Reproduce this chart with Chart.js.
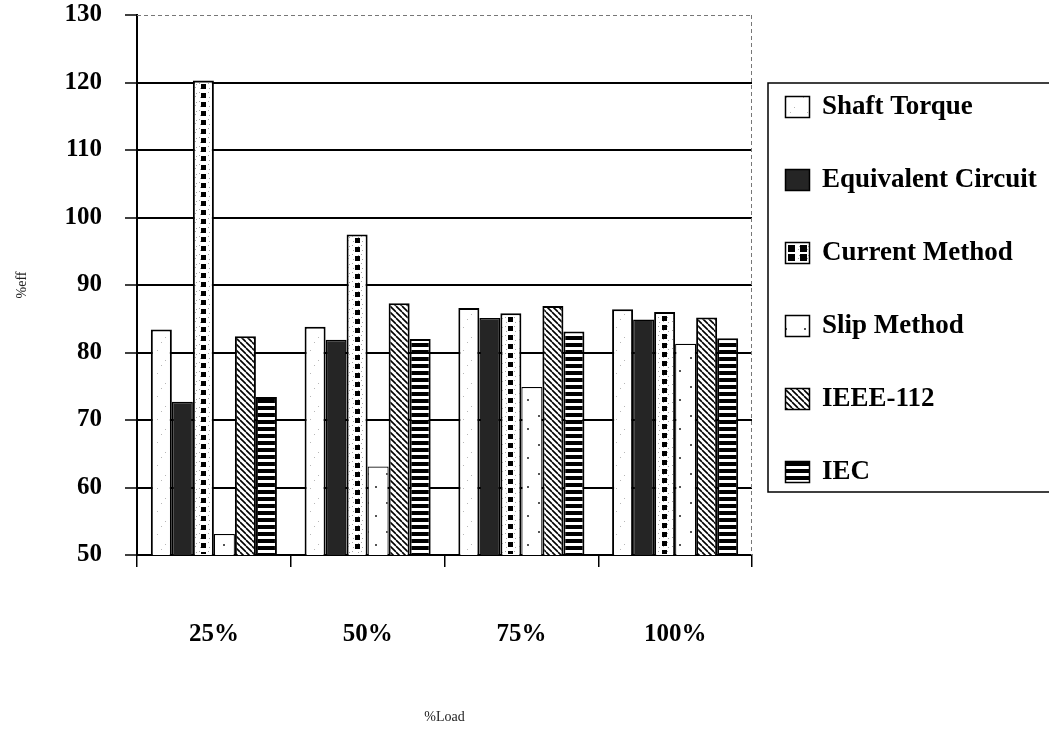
<!DOCTYPE html>
<html>
<head>
<meta charset="utf-8">
<script src="https://cdn.jsdelivr.net/npm/chart.js@4.4.1/dist/chart.umd.min.js"></script>
<style>
  html, body { margin: 0; padding: 0; background: #fff; }
  #wrap { width: 1049px; height: 731px; }
</style>
</head>
<body>
<div id="wrap"><canvas id="c" width="1049" height="731"></canvas></div>
<script>
// Motor efficiency (%) by load level, per estimation method
const loadLabels = ['25%', '50%', '75%', '100%'];
const shaftTorque = [83.4, 83.8, 86.6, 86.4];
const equivalentCircuit = [72.7, 81.9, 85.1, 84.9];
const currentMethod = [120.3, 97.5, 85.8, 86.0];
const slipMethod = [53.1, 63.1, 74.9, 81.3];
const ieee112 = [82.4, 87.3, 86.9, 85.2];
const iec = [73.4, 82.0, 83.1, 82.1];
const effTicks = [50, 60, 70, 80, 90, 100, 110, 120, 130];

const SERIF = '"Liberation Serif", "Times New Roman", serif';

// ---- fill patterns ----
function makePattern(w, h, draw) {
  const c = document.createElement('canvas');
  c.width = w; c.height = h;
  const g = c.getContext('2d');
  g.fillStyle = '#fff';
  g.fillRect(0, 0, w, h);
  draw(g);
  return g.createPattern(c, 'repeat');
}
const speckleFill = makePattern(17, 23, g => {
  g.fillStyle = '#b8b8b8';
  g.fillRect(4, 5, 1, 1); g.fillRect(12, 15, 1, 1); g.fillRect(8, 20, 1, 1);
});
const dottedFill = makePattern(9, 9, g => {
  g.fillStyle = '#a5a5a5';
  g.fillRect(1, 2, 1, 1); g.fillRect(7, 3, 1, 1); g.fillRect(2, 7, 1, 1); g.fillRect(6, 6, 1, 1);
});
const sparseDotFill = makePattern(19, 29, g => {
  g.fillStyle = '#555';
  g.fillRect(6, 9, 2, 2); g.fillRect(14, 22, 2, 2);
});
const diagonalFill = makePattern(6, 6, g => {
  g.strokeStyle = '#000';
  g.lineWidth = 1.6;
  g.beginPath();
  for (const k of [-6, 0, 6]) { g.moveTo(k, 0); g.lineTo(k + 6, 6); }
  g.stroke();
});
const stripeFill = makePattern(4, 7, g => {
  g.fillStyle = '#000';
  g.fillRect(0, 0, 4, 4);
});

const datasets = [
  { label: 'Shaft Torque', data: shaftTorque, backgroundColor: speckleFill, borderWidth: 2 },
  { label: 'Equivalent Circuit', data: equivalentCircuit, backgroundColor: '#252525', borderWidth: 1.5 },
  { label: 'Current Method', data: currentMethod, backgroundColor: dottedFill, borderWidth: 2 },
  { label: 'Slip Method', data: slipMethod, backgroundColor: sparseDotFill, borderWidth: 1.2 },
  { label: 'IEEE-112', data: ieee112, backgroundColor: diagonalFill, borderWidth: 2 },
  { label: 'IEC', data: iec, backgroundColor: stripeFill, borderWidth: 2 }
].map(d => Object.assign({ borderColor: '#000' }, d));

// dashed frame on the top and right side of the plot area
const framePlugin = {
  id: 'frame',
  beforeDatasetsDraw(chart) {
    const { ctx, chartArea: a } = chart;
    ctx.save();
    ctx.strokeStyle = '#777';
    ctx.lineWidth = 1;
    ctx.setLineDash([4, 3]);
    ctx.beginPath();
    ctx.moveTo(a.left, a.top + 0.5);
    ctx.lineTo(a.right, a.top + 0.5);
    ctx.moveTo(a.right - 0.5, a.top);
    ctx.lineTo(a.right - 0.5, a.bottom);
    ctx.stroke();
    ctx.restore();
  }
};

// black square column inside each "Current Method" bar
const squareColumnPlugin = {
  id: 'squareColumn',
  afterDatasetsDraw(chart) {
    const idx = chart.data.datasets.findIndex(d => d.label === 'Current Method');
    const meta = chart.getDatasetMeta(idx);
    const { ctx, chartArea: a } = chart;
    ctx.save();
    ctx.fillStyle = '#000';
    meta.data.forEach(bar => {
      const { x, y, base, width } = bar.getProps(['x', 'y', 'base', 'width'], true);
      const bottom = Math.min(base, a.bottom);
      ctx.save();
      ctx.beginPath();
      ctx.rect(x - width / 2 + 2, y + 2, width - 4, bottom - y - 3);
      ctx.clip();
      for (let yy = y + 4; yy < bottom - 2; yy += 9) {
        ctx.fillRect(Math.round(x - 2.5), Math.round(yy), 5, 5);
      }
      ctx.restore();
    });
    ctx.restore();
  }
};

// boxed legend to the right of the plot
const sideLegendPlugin = {
  id: 'sideLegend',
  afterDraw(chart) {
    const { ctx, chartArea: a } = chart;
    const boxL = a.right + 16, boxT = 83, boxB = 492;
    const sx = a.right + 33, tx = sx + 37;
    const y0 = 107, step = 73, sw = 25, sh = 22;
    ctx.save();
    ctx.strokeStyle = '#000';
    ctx.lineWidth = 1.5;
    ctx.beginPath();
    ctx.moveTo(chart.width + 2, boxT);
    ctx.lineTo(boxL, boxT);
    ctx.lineTo(boxL, boxB);
    ctx.lineTo(chart.width + 2, boxB);
    ctx.stroke();

    ctx.font = 'bold 27px ' + SERIF;
    ctx.textBaseline = 'middle';
    ctx.textAlign = 'left';
    chart.data.datasets.forEach((ds, i) => {
      const cy = y0 + i * step;
      const top = cy - sh / 2;
      ctx.fillStyle = ds.backgroundColor;
      ctx.fillRect(sx, top, sw, sh);
      if (ds.label === 'Current Method') {
        ctx.fillStyle = '#000';
        ctx.fillRect(sx + 3, top + 3, 7, 7);
        ctx.fillRect(sx + 15, top + 3, 7, 7);
        ctx.fillRect(sx + 3, top + 12, 7, 7);
        ctx.fillRect(sx + 15, top + 12, 7, 7);
      }
      ctx.strokeStyle = '#000';
      ctx.lineWidth = 1.5;
      ctx.strokeRect(sx + 0.5, top + 0.5, sw - 1, sh - 1);
      ctx.fillStyle = '#000';
      ctx.fillText(ds.label, tx, cy);
    });
    ctx.restore();
  }
};

new Chart(document.getElementById('c'), {
  type: 'bar',
  data: { labels: loadLabels, datasets },
  options: {
    responsive: false,
    animation: false,
    devicePixelRatio: 1,
    layout: { padding: { left: 0, right: 297, top: 15, bottom: 0 } },
    datasets: { bar: { categoryPercentage: 0.82, barPercentage: 1.0 } },
    plugins: { legend: { display: false }, tooltip: { enabled: false } },
    scales: {
      x: {
        grid: { offset: true, drawOnChartArea: false, drawTicks: true, tickLength: 12, color: '#000', lineWidth: 1.5 },
        border: { display: true, color: '#000', width: 2 },
        ticks: { font: { family: SERIF, size: 25, weight: 'bold' }, color: '#000', padding: 53, maxRotation: 0 },
        title: { display: true, text: '%Load', font: { family: SERIF, size: 14 }, color: '#222', padding: { top: 0, bottom: 5 } },
        afterFit(s) { s.height = 176; s.paddingLeft = 0; s.paddingRight = 0; }
      },
      y: {
        min: 50,
        max: 130,
        afterBuildTicks(s) { s.ticks = effTicks.map(v => ({ value: v })); },
        grid: {
          color: c => (c.tick && c.tick.value === 130) ? 'rgba(0,0,0,0)' : '#000',
          lineWidth: 2,
          tickLength: 12,
          tickColor: '#000',
          tickWidth: 1.5
        },
        border: { display: true, color: '#000', width: 2 },
        ticks: { font: { family: SERIF, size: 25, weight: 'bold' }, color: '#000', padding: 23 },
        title: { display: true, text: '%eff', font: { family: SERIF, size: 14 }, color: '#222', padding: { top: 14, bottom: 0 } },
        afterFit(s) { s.width = 137; s.paddingTop = 0; s.paddingBottom = 0; }
      }
    }
  },
  plugins: [framePlugin, squareColumnPlugin, sideLegendPlugin]
});
</script>
</body>
</html>
